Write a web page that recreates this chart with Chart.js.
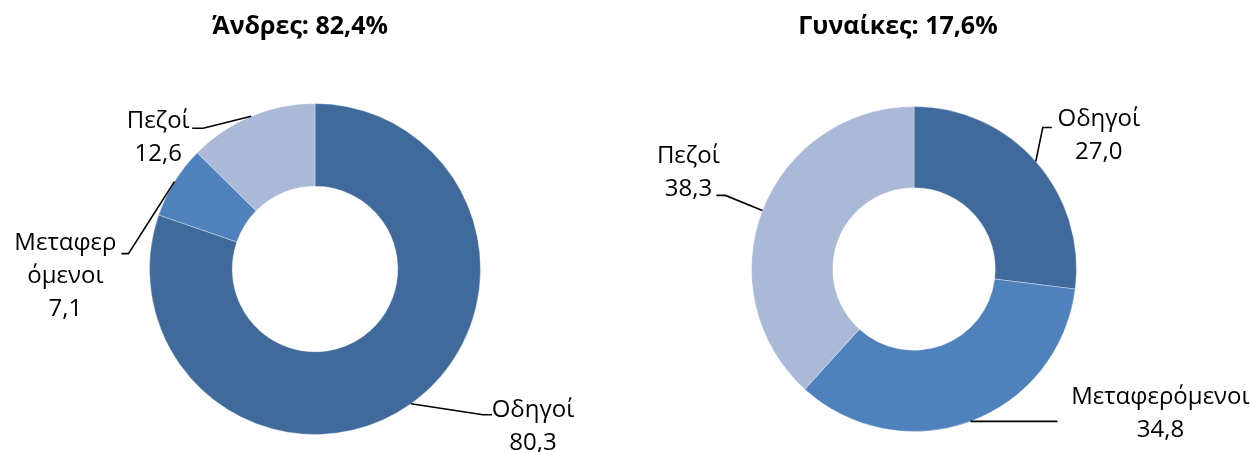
<!DOCTYPE html>
<html>
<head>
<meta charset="utf-8">
<script src="https://cdn.jsdelivr.net/npm/chart.js@4.4.1/dist/chart.umd.min.js"></script>
<style>
  html, body { margin: 0; padding: 0; background: #fff; }
  .row { display: flex; width: 1251px; height: 452px; }
  .cell { position: relative; height: 452px; }
</style>
</head>
<body>
<div class="row">
  <div class="cell" style="width:600px"><canvas id="men"></canvas></div>
  <div class="cell" style="width:651px"><canvas id="women"></canvas></div>
</div>
<script>
const categories = ['Οδηγοί', 'Μεταφερόμενοι', 'Πεζοί']
const menValues = [80.3, 7.1, 12.6]
const womenValues = [27.0, 34.8, 38.3]
const menTitle = 'Άνδρες: 82,4%'
const womenTitle = 'Γυναίκες: 17,6%'
// the men's chart wraps the long category name over two lines
const menNames = [['Οδηγοί'], ['Μεταφερ', 'όμενοι'], ['Πεζοί']]
const womenNames = [['Οδηγοί'], ['Μεταφερόμενοι'], ['Πεζοί']]

const colors = ['#416A9C', '#4F81BD', '#AAB9D8']
const FONT = '"Open Sans", "DejaVu Sans", sans-serif'
const LINE_H = 33

const fmt = v => v.toFixed(1).replace('.', ',')

// leader layout, offsets from the point on the outer edge at the slice's middle angle
// elbow / end: leader line points, text: centre of the first text line
const menLeaders = [
  { elbow: [72, 11], end: [81, 11], text: [122, 6] },
  { elbow: [-46, 72], end: [-53, 72], text: [-109, 62] },
  { elbow: [-48, 12], end: [-59, 12], text: [-93, 5] },
]
const womenLeaders = [
  { elbow: [7, -34], end: [16, -34], text: [63, -42] },
  { elbow: [87, 0], end: [87, 0], text: [190, -24] },
  { elbow: [-37, -15], end: [-46, -15], text: [-74, -54] },
]

const leaderLabels = {
  id: 'leaderLabels',
  afterDatasetsDraw(chart, _args, opts) {
    const ctx = chart.ctx
    const meta = chart.getDatasetMeta(0)
    const values = chart.data.datasets[0].data
    ctx.save()
    meta.data.forEach((arc, i) => {
      const { x, y, startAngle, endAngle, outerRadius } = arc.getProps(['x', 'y', 'startAngle', 'endAngle', 'outerRadius'], true)
      const mid = (startAngle + endAngle) / 2
      const ax = x + Math.cos(mid) * outerRadius
      const ay = y + Math.sin(mid) * outerRadius
      const lay = opts.layout[i]
      ctx.strokeStyle = '#000'
      ctx.lineWidth = 1.6
      ctx.beginPath()
      ctx.moveTo(ax, ay)
      ctx.lineTo(ax + lay.elbow[0], ay + lay.elbow[1])
      ctx.lineTo(ax + lay.end[0], ay + lay.end[1])
      ctx.stroke()

      const lines = [...opts.names[i], fmt(values[i])]
      ctx.fillStyle = '#000'
      ctx.font = `24px ${FONT}`
      ctx.textAlign = 'center'
      ctx.textBaseline = 'middle'
      lines.forEach((t, k) => {
        ctx.fillText(t, ax + lay.text[0], ay + lay.text[1] + k * LINE_H)
      })
    })
    // chart title
    ctx.font = `bold 25px ${FONT}`
    ctx.textAlign = 'center'
    ctx.textBaseline = 'middle'
    ctx.fillStyle = '#000'
    ctx.fillText(opts.title, opts.titleX, 27)
    ctx.restore()
  },
}

function makeDonut(id, values, names, layout, title, titleX, padding) {
  return new Chart(document.getElementById(id), {
    type: 'doughnut',
    data: {
      labels: categories,
      datasets: [{
        data: values,
        backgroundColor: colors,
        borderColor: 'rgba(255,255,255,0.35)',
        borderWidth: 1,
      }],
    },
    options: {
      responsive: true,
      maintainAspectRatio: false,
      animation: false,
      cutout: '50%',
      layout: { padding },
      plugins: {
        legend: { display: false },
        tooltip: { enabled: false },
        title: { display: false },
        leaderLabels: { names, layout, title, titleX },
      },
    },
    plugins: [leaderLabels],
  })
}

makeDonut('men', menValues, menNames, menLeaders, menTitle, 300, { top: 103, bottom: 17, left: 30, right: 0 })
makeDonut('women', womenValues, womenNames, womenLeaders, womenTitle, 298, { top: 106, bottom: 20, left: 0, right: 23 })
</script>
</body>
</html>
